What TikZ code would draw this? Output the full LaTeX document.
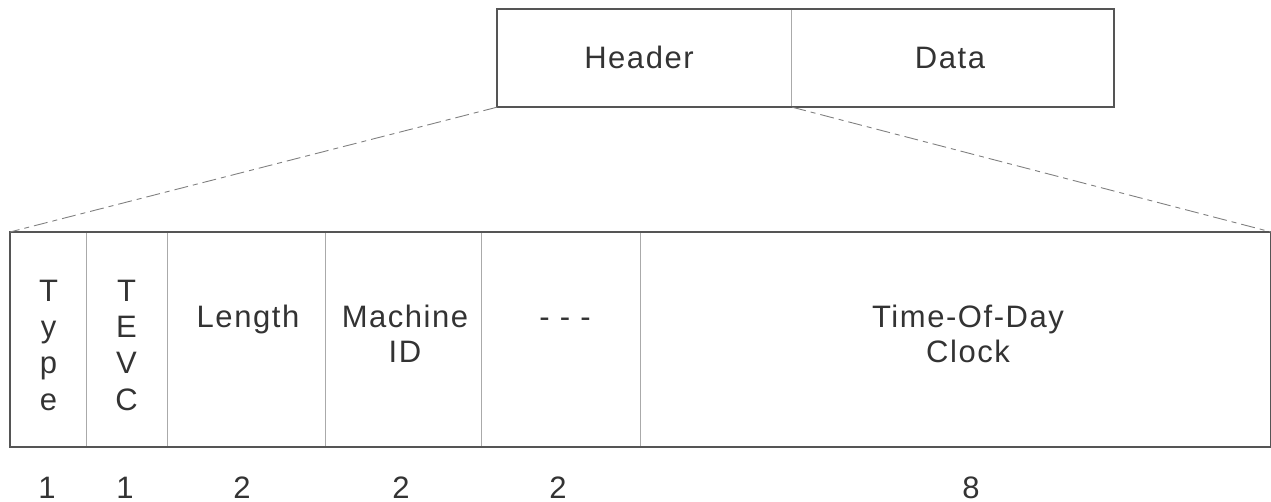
\documentclass[tikz,border=0pt]{standalone}
\usepackage{fontspec}
\usetikzlibrary{calc}
\setmainfont{Liberation Sans}[LetterSpace=5]
\definecolor{txt}{HTML}{333333}
\definecolor{frame}{HTML}{555555}
\definecolor{divider}{HTML}{AAAAAA}
\definecolor{dashc}{HTML}{808080}
\tikzset{
  cell/.style={draw=divider, line width=1.2pt, rectangle, inner sep=0pt, anchor=north west},
  lbl/.style={text=txt, font=\fontsize{31pt}{35pt}\selectfont, align=center, inner sep=0pt},
  vlbl/.style={text=txt, font=\fontsize{31pt}{36.3pt}\selectfont, align=center, inner sep=0pt},
  outer/.style={draw=frame, line width=1.6pt},
  zoomline/.style={draw=dashc, line width=0.9pt, dash pattern=on 14pt off 5pt on 5pt off 5pt}
}
\begin{document}
\begin{tikzpicture}[x=1pt,y=-1pt]
\useasboundingbox (0,0) rectangle (1271,502);
% top frame
\node[cell, minimum width=294pt, minimum height=97pt] (hdr) at (497,9) {};
\node[cell, minimum width=322pt, minimum height=97pt] (dat) at (791,9) {};
\draw[outer] (hdr.north west) rectangle (dat.south east);
\node[lbl, anchor=base] (hdrt) at (639,69) {Header};
\node[lbl, anchor=base] (datt) at (950,69) {Data};
% bottom cells
\node[cell, minimum width=76pt, minimum height=214pt] (c1) at (10,232) {};
\node[cell, minimum width=81pt, minimum height=214pt] (c2) at (86,232) {};
\node[cell, minimum width=158pt, minimum height=214pt] (c3) at (167,232) {};
\node[cell, minimum width=156pt, minimum height=214pt] (c4) at (325,232) {};
\node[cell, minimum width=159pt, minimum height=214pt] (c5) at (481,232) {};
\node[cell, minimum width=630pt, minimum height=214pt] (c6) at (640,232) {};
\draw[outer] (c1.north west) rectangle (c6.south east);
% labels (first line carries a strut: top = baseline - 0.7 baselineskip)
\node[vlbl, anchor=north] (t1) at (48.5,275.6) {\strut T\\y\\p\\e};
\node[vlbl, anchor=north] (t2) at (126.5,275.6) {\strut T\\E\\V\\C};
\node[lbl, anchor=north] (t3) at (248,302.5) {\strut Length};
\node[lbl, anchor=north] (t4) at (405,302.5) {\strut Machine\\ID};
\node[lbl, anchor=north] (t5) at (565,302.5) {\strut - - -};
\node[lbl, anchor=north] (t6) at (968,302.5) {\strut Time-Of-Day\\Clock};
% sizes
\node[lbl, anchor=base] (n1) at (47,498) {1};
\node[lbl, anchor=base] (n2) at (125,498) {1};
\node[lbl, anchor=base] (n3) at (242,498) {2};
\node[lbl, anchor=base] (n4) at (401,498) {2};
\node[lbl, anchor=base] (n5) at (558,498) {2};
\node[lbl, anchor=base] (n6) at (971,498) {8};
% zoom lines
\draw[zoomline] (hdr.south west) -- (c1.north west);
\draw[zoomline] (hdr.south east) -- (c6.north east);
\end{tikzpicture}
\end{document}
